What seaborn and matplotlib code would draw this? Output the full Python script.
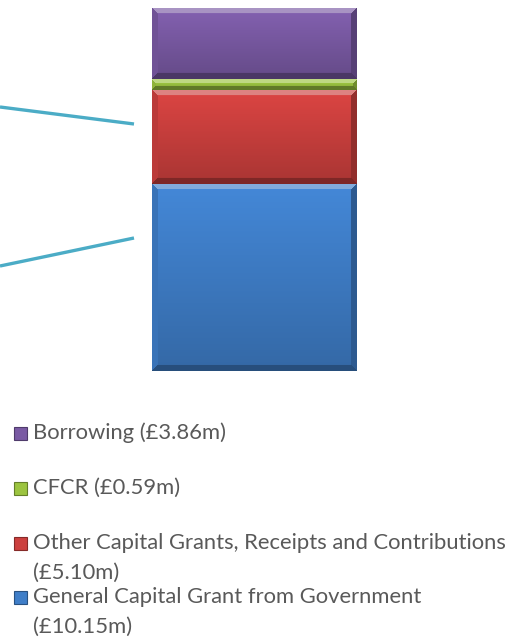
import numpy as np
import pandas as pd
import matplotlib
matplotlib.use("Agg")
import matplotlib.pyplot as plt
import seaborn as sns
from matplotlib.colors import to_rgb
from matplotlib.lines import Line2D
from matplotlib.patches import Rectangle

# ---- data (stacked from bottom to top) ----
categories = ["General Capital Grant from Government",
              "Other Capital Grants, Receipts and Contributions",
              "CFCR",
              "Borrowing"]
values = [10.15, 5.10, 0.59, 3.86]
legend_labels = ["Borrowing (£3.86m)",
                 "CFCR (£0.59m)",
                 "Other Capital Grants, Receipts and Contributions\n(£5.10m)",
                 "General Capital Grant from Government\n(£10.15m)"]
colors = ["#3f7ec8", "#cc403e", "#9cc440", "#7a5aa4"]
legend_colors = ["#7a5aa4", "#9cc440", "#cc403e", "#3f7ec8"]

sns.set_theme(style="white")
plt.rcParams["font.family"] = ["Lato", "DejaVu Sans"]

W, H = 523, 637
DPI = 100
fig = plt.figure(figsize=(W / DPI, H / DPI), dpi=DPI)
fig.patch.set_facecolor("white")

ax = fig.add_axes([152 / W, 1 - 371 / H, (357 - 152) / W, (371 - 7.5) / H])
df = pd.DataFrame({"x": ["Funding"] * len(values), "cat": categories, "v": values})
bottoms = np.concatenate([[0], np.cumsum(values)[:-1]])
for i, row in df.iterrows():
    sns.barplot(data=df.iloc[[i]], x="x", y="v", color=colors[i], width=0.8,
                bottom=bottoms[i], ax=ax, saturation=1, linewidth=0, errorbar=None)

ax.set_xlim(-0.4, 0.4)
ax.set_ylim(0, sum(values))
ax.axis("off")
fig.canvas.draw()


def bevel_image(c, wp, hp, b):
    c = np.array(to_rgb(c))
    img = np.zeros((hp, wp, 3))
    ii, jj = np.mgrid[0:hp, 0:wp]
    t = ii / max(hp - 1, 1)
    base = c[None, None, :] * (1.08 - 0.25 * t[..., None])
    img[:] = base
    dt, db, dl, dr = ii, hp - 1 - ii, jj, wp - 1 - jj
    m = np.minimum(np.minimum(dt, db), np.minimum(dl, dr))
    band = m < b
    which = np.argmin(np.stack([dt, db, dl, dr]), axis=0)
    top = c + (1 - c) * 0.35
    bot = c * 0.62
    left = c * 0.92
    right = c * 0.72
    for k, col in enumerate([top, bot, left, right]):
        sel = band & (which == k)
        img[sel] = col
    return np.clip(img, 0, 1)


for p in ax.patches:
    bb = p.get_window_extent()
    wp, hp = int(round(bb.width)), int(round(bb.height))
    if wp < 2 or hp < 2:
        continue
    fc = p.get_facecolor()[:3]
    b = min(6, hp / 3.2)
    img = bevel_image(fc, wp, hp, b)
    x0, y0 = p.get_x(), p.get_y()
    ax.imshow(img, extent=(x0, x0 + p.get_width(), y0, y0 + p.get_height()),
              origin="upper", aspect="auto", interpolation="bilinear",
              zorder=3, clip_path=p, clip_on=True)
ax.set_xlim(-0.4, 0.4)
ax.set_ylim(0, sum(values))

# leader lines (annotation callouts)
line_color = "#4bacc6"
for (x1, y1, x2, y2) in [(0, 107, 134, 124), (0, 266, 134, 238)]:
    fig.add_artist(Line2D([x1 / W, x2 / W], [1 - y1 / H, 1 - y2 / H],
                          transform=fig.transFigure, color=line_color,
                          lw=2.4, solid_capstyle="butt"))

# legend
text_color = "#595959"
entry_y = [433, 488, 543, 597]
line_gap = 30
for lab, col, yc in zip(legend_labels, legend_colors, entry_y):
    c = np.array(to_rgb(col))
    fig.add_artist(Rectangle((13.5 / W, 1 - (yc + 6.5) / H), 13 / W, 13 / H,
                             transform=fig.transFigure, facecolor=col,
                             edgecolor=c * 0.65, lw=0.8))
    for k, part in enumerate(lab.split("\n")):
        fig.text(33 / W, 1 - (yc + k * line_gap) / H, part, color=text_color,
                 fontsize=15.8, va="center", ha="left")

fig.savefig("out.png", dpi=DPI, facecolor="white")
